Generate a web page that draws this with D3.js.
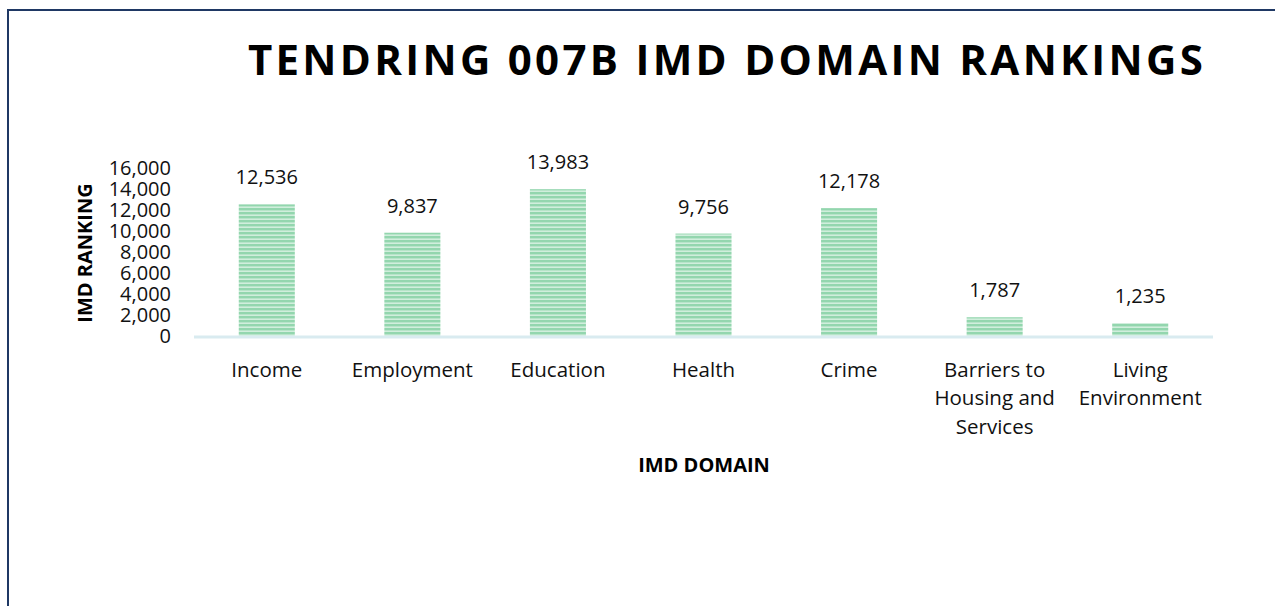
<!DOCTYPE html>
<html>
<head>
<meta charset="utf-8">
<script src="https://cdn.jsdelivr.net/npm/d3@7"></script>
<style>
  body { margin: 0; background: #fff; }
  svg { display: block; font-family: "Open Sans", "Noto Sans", sans-serif; }
</style>
</head>
<body>
<svg id="chart" width="1275" height="606"></svg>
<script>
var domains = [["Income"], ["Employment"], ["Education"], ["Health"], ["Crime"],
    ["Barriers to", "Housing and", "Services"], ["Living", "Environment"]];
var rankings = [12536, 9837, 13983, 9756, 12178, 1787, 1235];
var yTicks = [0, 2000, 4000, 6000, 8000, 10000, 12000, 14000, 16000];

var svg = d3.select("#chart");
var plotLeft = 194, plotRight = 1213, plotTop = 168, plotBottom = 336;

// frame
svg.append("path")
    .attr("d", "M8,606 V10 H1275")
    .attr("fill", "none")
    .attr("stroke", "#1f3864")
    .attr("stroke-width", 2);

// striped fill
var pat = svg.append("defs").append("pattern")
    .attr("id", "stripes")
    .attr("patternUnits", "userSpaceOnUse")
    .attr("width", 10).attr("height", 4);
pat.append("rect").attr("width", 10).attr("height", 4).attr("fill", "#d0eedc");
pat.append("rect").attr("width", 10).attr("height", 2.4).attr("fill", "#93d6ae");

var xs = d3.scaleBand()
    .domain(domains.map(function (d) { return d.join(" "); }))
    .range([plotLeft, plotRight])
    .paddingInner(0.615)
    .paddingOuter(0.3075);

var ys = d3.scaleLinear()
    .domain([0, 16000])
    .range([plotBottom, plotTop]);

// title
svg.append("text")
    .attr("x", 727).attr("y", 75)
    .attr("text-anchor", "middle")
    .style("font-size", "42px")
    .style("font-weight", "bold")
    .style("letter-spacing", "3.3px")
    .text("TENDRING 007B IMD DOMAIN RANKINGS");

// bars
svg.append("g")
    .selectAll("rect")
    .data(rankings)
    .enter().append("rect")
    .attr("x", function (d, i) { return xs(domains[i].join(" ")); })
    .attr("y", function (d) { return ys(d); })
    .attr("width", xs.bandwidth())
    .attr("height", function (d) { return ys(0) - ys(d); })
    .attr("fill", "url(#stripes)");

// axis line
svg.append("line")
    .attr("x1", plotLeft).attr("x2", plotRight)
    .attr("y1", plotBottom + 1).attr("y2", plotBottom + 1)
    .attr("stroke", "#d9ebf0")
    .attr("stroke-width", 3);

// value labels
svg.append("g")
    .selectAll("text")
    .data(rankings)
    .enter().append("text")
    .attr("x", function (d, i) { return xs(domains[i].join(" ")) + xs.bandwidth() / 2; })
    .attr("y", function (d) { return ys(d) - 20; })
    .attr("text-anchor", "middle")
    .style("font-size", "20px")
    .style("fill", "#111")
    .text(function (d) { return d3.format(",")(d); });

// y axis
var y_axis = d3.axisLeft(ys)
    .tickValues(yTicks)
    .tickFormat(d3.format(","))
    .tickSize(0)
    .tickPadding(0);

var yg = svg.append("g")
    .attr("transform", "translate(171,0)")
    .call(y_axis);
yg.select(".domain").remove();
yg.selectAll("text")
    .style("font-size", "20px")
    .style("font-family", "\"Open Sans\", sans-serif")
    .style("fill", "#111");

// x labels
var xl = svg.append("g")
    .selectAll("text")
    .data(domains)
    .enter().append("text")
    .attr("x", function (d) { return xs(d.join(" ")) + xs.bandwidth() / 2; })
    .attr("y", 377)
    .attr("text-anchor", "middle")
    .style("font-size", "20.5px")
    .style("fill", "#111");
xl.selectAll("tspan")
    .data(function (d) { return d; })
    .enter().append("tspan")
    .attr("x", function () { return this.parentNode.getAttribute("x"); })
    .attr("dy", function (d, i) { return i === 0 ? 0 : 28.3; })
    .text(function (d) { return d; });

// axis titles
svg.append("text")
    .attr("x", 704).attr("y", 472)
    .attr("text-anchor", "middle")
    .style("font-size", "20px")
    .style("font-weight", "bold")
    .text("IMD DOMAIN");

svg.append("text")
    .attr("transform", "translate(92,253) rotate(-90)")
    .attr("text-anchor", "middle")
    .style("font-size", "20px")
    .style("font-weight", "bold")
    .text("IMD RANKING");
</script>
</body>
</html>
